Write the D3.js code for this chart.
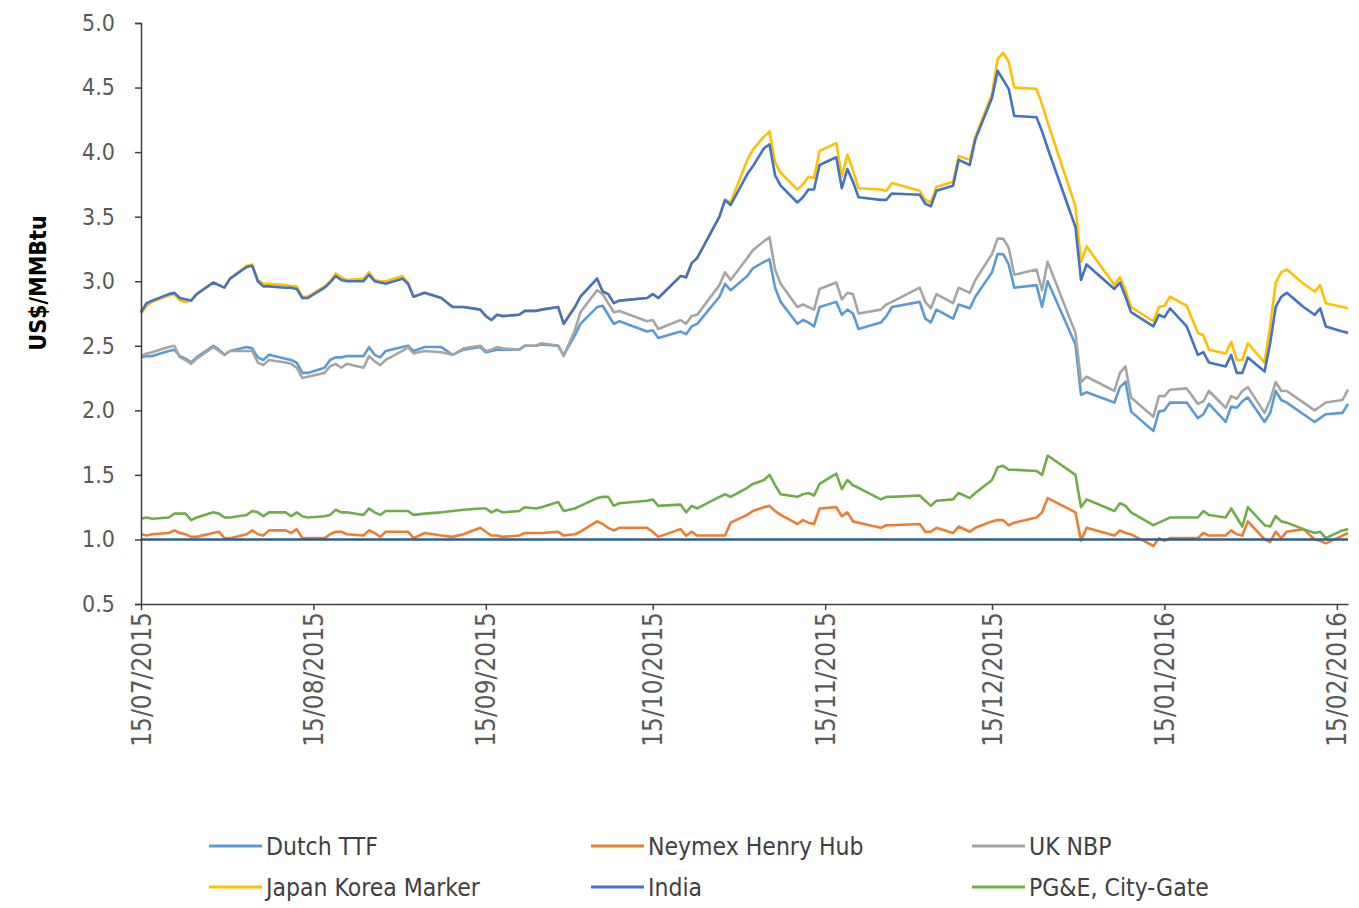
<!DOCTYPE html>
<html>
<head>
<meta charset="utf-8">
<title>Gas prices, US$/MMBtu</title>
<style>
  html, body { margin: 0; padding: 0; background: #fff; }
  svg { display: block; }
  .axis path, .axis line { stroke: #404040; stroke-width: 1.5px; }
  .axis text { fill: #595959; font-family: 'DejaVu Sans Condensed', 'DejaVu Sans', sans-serif; }
  .series { fill: none; stroke-width: 2.6px; stroke-linejoin: round; }
  .legend text { fill: #404040; font-family: 'DejaVu Sans Condensed', 'DejaVu Sans', sans-serif; font-size: 24.5px; }
</style>
</head>
<body>
<svg width="1359" height="908"></svg>
<script src="https://cdn.jsdelivr.net/npm/d3@7"></script>
<script>

var dates = [
  "2015-07-15","2015-07-16","2015-07-17","2015-07-20","2015-07-21","2015-07-22","2015-07-23","2015-07-24","2015-07-25","2015-07-28",
  "2015-07-29","2015-07-30","2015-07-31","2015-08-03","2015-08-04","2015-08-05","2015-08-06","2015-08-07","2015-08-10","2015-08-11",
  "2015-08-12","2015-08-13","2015-08-14","2015-08-17","2015-08-18","2015-08-19","2015-08-20","2015-08-21","2015-08-24","2015-08-25",
  "2015-08-26","2015-08-27","2015-08-28","2015-08-31","2015-09-01","2015-09-02","2015-09-04","2015-09-07","2015-09-09","2015-09-11",
  "2015-09-14","2015-09-15","2015-09-16","2015-09-17","2015-09-18","2015-09-21","2015-09-22","2015-09-24","2015-09-25","2015-09-28",
  "2015-09-29","2015-10-01","2015-10-02","2015-10-05","2015-10-06","2015-10-07","2015-10-08","2015-10-09","2015-10-14","2015-10-15",
  "2015-10-16","2015-10-20","2015-10-21","2015-10-22","2015-10-23","2015-10-27","2015-10-28","2015-10-29","2015-11-01","2015-11-02",
  "2015-11-04","2015-11-05","2015-11-06","2015-11-07","2015-11-10","2015-11-11","2015-11-12","2015-11-13","2015-11-14","2015-11-17",
  "2015-11-18","2015-11-19","2015-11-20","2015-11-21","2015-11-25","2015-11-26","2015-11-27","2015-12-02","2015-12-03","2015-12-04",
  "2015-12-05","2015-12-08","2015-12-09","2015-12-11","2015-12-12","2015-12-15","2015-12-16","2015-12-17","2015-12-18","2015-12-19",
  "2015-12-23","2015-12-24","2015-12-25","2015-12-30","2015-12-31","2016-01-01","2016-01-06","2016-01-07","2016-01-08","2016-01-09",
  "2016-01-13","2016-01-14","2016-01-15","2016-01-16","2016-01-19","2016-01-21","2016-01-22","2016-01-23","2016-01-26","2016-01-27",
  "2016-01-28","2016-01-29","2016-01-30","2016-02-02","2016-02-03","2016-02-04","2016-02-05","2016-02-06","2016-02-09","2016-02-11",
  "2016-02-12","2016-02-13","2016-02-16","2016-02-17"
];

var dutchTTF = [
  2.41,2.42,2.42,2.46,2.47,2.42,2.40,2.37,2.41,2.50,
  2.47,2.43,2.46,2.49,2.48,2.41,2.39,2.43,2.40,2.39,
  2.37,2.29,2.29,2.33,2.39,2.41,2.41,2.42,2.42,2.49,
  2.43,2.41,2.46,2.49,2.50,2.46,2.49,2.49,2.43,2.47,
  2.49,2.45,2.46,2.47,2.47,2.47,2.50,2.50,2.51,2.50,
  2.43,2.58,2.67,2.80,2.81,2.74,2.67,2.69,2.61,2.62,
  2.56,2.61,2.59,2.65,2.67,2.88,2.98,2.93,3.04,3.10,
  3.15,3.17,2.95,2.84,2.67,2.70,2.68,2.65,2.80,2.84,
  2.74,2.78,2.75,2.63,2.68,2.73,2.80,2.84,2.71,2.68,
  2.78,2.71,2.82,2.79,2.88,3.07,3.21,3.21,3.13,2.95,
  2.97,2.80,3.00,2.51,2.12,2.14,2.06,2.18,2.22,1.99,
  1.84,1.99,2.00,2.06,2.06,1.94,1.97,2.05,1.91,2.03,
  2.02,2.07,2.10,1.91,1.98,2.15,2.08,2.06,1.97,1.91,
  1.94,1.97,1.98,2.05
];

var henryHub = [
  1.04,1.03,1.04,1.05,1.07,1.05,1.04,1.02,1.02,1.05,
  1.06,1.01,1.01,1.04,1.07,1.04,1.03,1.07,1.07,1.05,
  1.08,1.01,1.01,1.01,1.04,1.06,1.06,1.04,1.03,1.07,
  1.05,1.02,1.06,1.06,1.06,1.01,1.05,1.03,1.02,1.04,
  1.09,1.06,1.03,1.03,1.02,1.03,1.05,1.05,1.05,1.06,
  1.03,1.04,1.06,1.14,1.12,1.09,1.07,1.09,1.09,1.06,
  1.02,1.08,1.03,1.06,1.03,1.03,1.03,1.13,1.19,1.22,
  1.25,1.26,1.22,1.19,1.12,1.15,1.13,1.12,1.24,1.25,
  1.18,1.21,1.14,1.13,1.09,1.11,1.11,1.12,1.06,1.06,
  1.09,1.05,1.10,1.06,1.09,1.14,1.15,1.15,1.11,1.13,
  1.17,1.21,1.32,1.21,0.99,1.09,1.03,1.07,1.05,1.04,
  0.95,1.01,0.99,1.01,1.01,1.01,1.05,1.03,1.03,1.07,
  1.04,1.03,1.14,1.00,0.98,1.06,1.01,1.06,1.08,1.00,
  0.99,0.97,1.03,1.05
];

var ukNBP = [
  2.42,2.44,2.45,2.49,2.50,2.41,2.39,2.36,2.40,2.49,
  2.46,2.43,2.46,2.46,2.46,2.37,2.35,2.39,2.37,2.36,
  2.33,2.25,2.26,2.29,2.34,2.36,2.33,2.36,2.33,2.42,
  2.38,2.35,2.39,2.46,2.49,2.44,2.46,2.45,2.43,2.48,
  2.50,2.46,2.47,2.49,2.48,2.47,2.50,2.50,2.52,2.50,
  2.42,2.62,2.76,2.93,2.90,2.83,2.76,2.77,2.69,2.70,
  2.63,2.70,2.67,2.73,2.74,2.97,3.07,3.01,3.18,3.24,
  3.31,3.34,3.09,2.98,2.80,2.82,2.80,2.78,2.94,2.99,
  2.86,2.91,2.90,2.75,2.78,2.82,2.84,2.95,2.84,2.79,
  2.90,2.83,2.95,2.91,3.01,3.21,3.33,3.33,3.26,3.05,
  3.09,2.93,3.15,2.60,2.22,2.26,2.15,2.29,2.34,2.10,
  1.95,2.11,2.11,2.16,2.17,2.05,2.07,2.15,2.02,2.11,
  2.09,2.15,2.18,1.98,2.08,2.22,2.15,2.15,2.06,2.00,
  2.03,2.06,2.08,2.16
];

var japanKorea = [
  2.75,2.81,2.84,2.89,2.90,2.85,2.84,2.85,2.90,2.99,
  2.97,2.95,3.02,3.12,3.13,3.01,2.98,2.98,2.97,2.96,
  2.96,2.88,2.88,2.96,3.00,3.06,3.03,3.01,3.02,3.07,
  3.01,3.00,3.00,3.04,2.99,2.88,2.91,2.87,2.80,2.80,
  2.78,2.73,2.70,2.74,2.73,2.74,2.77,2.77,2.78,2.80,
  2.67,2.80,2.88,3.02,2.92,2.90,2.83,2.85,2.87,2.90,
  2.87,3.04,3.03,3.14,3.18,3.50,3.63,3.61,3.94,4.02,
  4.12,4.16,3.92,3.84,3.71,3.75,3.81,3.80,4.01,4.07,
  3.81,3.98,3.86,3.72,3.71,3.70,3.76,3.70,3.63,3.61,
  3.73,3.77,3.97,3.94,4.12,4.45,4.72,4.77,4.70,4.50,
  4.49,4.37,4.23,3.58,3.15,3.27,2.97,3.03,2.93,2.80,
  2.69,2.80,2.81,2.88,2.81,2.60,2.58,2.47,2.44,2.53,
  2.39,2.39,2.52,2.37,2.65,2.99,3.07,3.09,2.98,2.92,
  2.97,2.83,2.80,2.79
];

var india = [
  2.76,2.83,2.85,2.90,2.91,2.87,2.86,2.85,2.90,2.99,
  2.97,2.95,3.02,3.11,3.12,3.00,2.96,2.96,2.95,2.95,
  2.94,2.87,2.87,2.95,2.99,3.04,3.01,3.00,3.00,3.05,
  3.00,2.99,2.98,3.02,2.98,2.88,2.91,2.87,2.80,2.80,
  2.78,2.73,2.70,2.74,2.73,2.74,2.77,2.77,2.78,2.80,
  2.67,2.80,2.88,3.02,2.92,2.90,2.83,2.85,2.87,2.90,
  2.87,3.04,3.03,3.14,3.18,3.50,3.63,3.59,3.83,3.89,
  4.03,4.06,3.82,3.74,3.61,3.65,3.71,3.71,3.90,3.96,
  3.72,3.87,3.77,3.65,3.63,3.63,3.68,3.67,3.60,3.58,
  3.70,3.74,3.94,3.90,4.10,4.42,4.63,4.56,4.49,4.28,
  4.27,4.16,4.03,3.42,3.01,3.13,2.94,2.99,2.88,2.76,
  2.65,2.74,2.72,2.79,2.65,2.43,2.45,2.37,2.34,2.43,
  2.29,2.29,2.41,2.30,2.52,2.80,2.88,2.91,2.80,2.74,
  2.79,2.65,2.61,2.60
];

var pgeCityGate = [
  1.16,1.17,1.16,1.17,1.20,1.20,1.20,1.15,1.17,1.21,
  1.20,1.17,1.17,1.19,1.22,1.21,1.18,1.21,1.21,1.18,
  1.21,1.18,1.17,1.18,1.19,1.23,1.21,1.21,1.19,1.24,
  1.21,1.19,1.22,1.22,1.22,1.19,1.20,1.21,1.22,1.23,
  1.24,1.24,1.21,1.23,1.21,1.22,1.25,1.24,1.25,1.29,
  1.22,1.24,1.26,1.32,1.33,1.33,1.26,1.28,1.30,1.31,
  1.26,1.27,1.21,1.26,1.24,1.33,1.35,1.33,1.40,1.43,
  1.46,1.50,1.42,1.35,1.33,1.35,1.36,1.34,1.43,1.51,
  1.39,1.46,1.42,1.40,1.31,1.33,1.33,1.34,1.30,1.26,
  1.30,1.31,1.36,1.32,1.36,1.46,1.56,1.57,1.54,1.54,
  1.53,1.50,1.65,1.50,1.25,1.31,1.22,1.28,1.26,1.21,
  1.11,1.13,1.15,1.17,1.17,1.17,1.22,1.19,1.17,1.24,
  1.17,1.10,1.25,1.11,1.10,1.18,1.14,1.13,1.08,1.05,
  1.06,1.01,1.07,1.08
];

var seriesNames = ["Dutch TTF", "Neymex Henry Hub", "UK NBP", "Japan Korea Marker", "India", "PG&E, City-Gate"];
var seriesColors = ["#5B9BD5", "#ED7D31", "#A5A5A5", "#FFC000", "#4472C4", "#70AD47"];
var seriesValues = [dutchTTF, henryHub, ukNBP, japanKorea, india, pgeCityGate];

var yTicks = [0.5, 1.0, 1.5, 2.0, 2.5, 3.0, 3.5, 4.0, 4.5, 5.0];
var xTicks = ["2015-07-15","2015-08-15","2015-09-15","2015-10-15","2015-11-15","2015-12-15","2016-01-15","2016-02-15"];
var refLevel = 1.0;

var parse = d3.timeParse("%Y-%m-%d"),
    fmt = d3.timeFormat("%d/%m/%Y");

var svg = d3.select("svg");

var x = d3.scaleTime()
    .domain([parse("2015-07-15"), parse("2016-02-17")])
    .range([141, 1348]);
var y = d3.scaleLinear()
    .domain([0.5, 5.0])
    .range([604, 23]);

// series lines
var line = d3.line()
    .x(function(d) { return x(d.date); })
    .y(function(d) { return y(d.value); });

seriesValues.forEach(function(vals, i) {
  var pts = dates.map(function(s, j) { return {date: parse(s), value: vals[j]}; })
      .filter(function(d) { return d.value != null; });
  svg.append("path")
      .datum(pts)
      .attr("class", "series")
      .attr("stroke", seriesColors[i])
      .attr("d", line);
});

// flat reference at 1.0
svg.append("line")
    .attr("x1", x.range()[0]).attr("x2", x.range()[1])
    .attr("y1", y(refLevel)).attr("y2", y(refLevel))
    .attr("stroke", "#2E5E8C")
    .attr("stroke-width", 2.6);

// y axis
var yAxis = svg.append("g")
    .attr("class", "axis")
    .attr("transform", "translate(141,0)")
    .call(d3.axisLeft(y).tickValues(yTicks).tickFormat(d3.format(".1f")).tickSize(6).tickPadding(20));
yAxis.selectAll("text").style("font-size", "23px");

// x axis
var xAxis = svg.append("g")
    .attr("class", "axis")
    .attr("transform", "translate(0,604)")
    .call(d3.axisBottom(x).tickValues(xTicks.map(parse)).tickFormat(fmt).tickSize(6).tickSizeOuter(0));
xAxis.selectAll("text")
    .style("font-size", "26px")
    .attr("text-anchor", "end")
    .attr("transform", "rotate(-90)")
    .attr("x", -8)
    .attr("y", 0)
    .attr("dy", "0.35em");

// axis title
svg.append("text")
    .attr("transform", "translate(46,283) rotate(-90)")
    .attr("text-anchor", "middle")
    .style("font-family", "'DejaVu Sans Condensed', 'DejaVu Sans', sans-serif")
    .style("font-weight", "bold")
    .style("font-size", "23px")
    .attr("fill", "#000")
    .text("US$/MMBtu");

// legend
var legCols = [209, 591, 972],
    legRows = [846, 887];
var legend = svg.append("g").attr("class", "legend");
seriesNames.forEach(function(name, i) {
  var lx = legCols[i % 3], ly = legRows[Math.floor(i / 3)];
  legend.append("line")
      .attr("x1", lx).attr("x2", lx + 53)
      .attr("y1", ly).attr("y2", ly)
      .attr("stroke", seriesColors[i])
      .attr("stroke-width", 3);
  legend.append("text")
      .attr("x", lx + 57)
      .attr("y", ly)
      .attr("dy", "0.35em")
      .text(name);
});

</script>
</body>
</html>
